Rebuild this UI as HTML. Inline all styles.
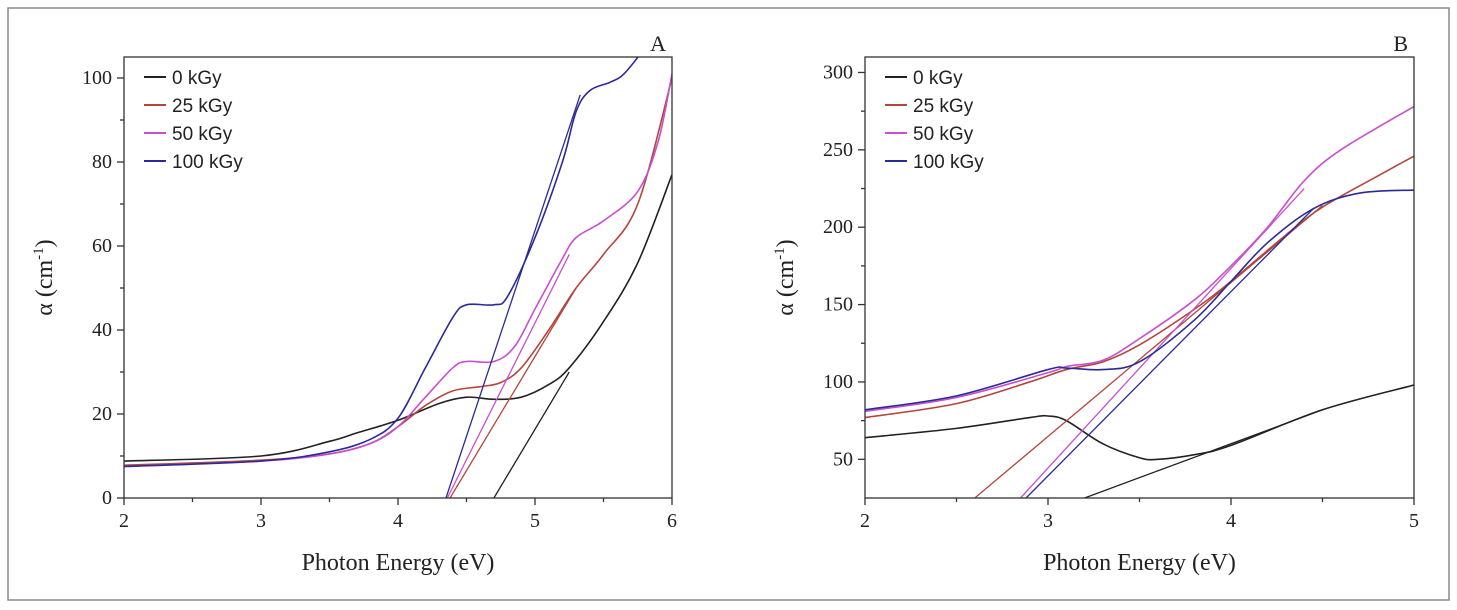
<!DOCTYPE html>
<html><head><meta charset="utf-8"><style>
body{margin:0;background:#fff;}
svg{display:block;font-family:"Liberation Serif",serif;}
.leg{font-family:"Liberation Sans",sans-serif;font-size:19px;}
</style></head><body>
<svg id="fig" width="1457" height="610">
<rect x="8" y="8" width="1441" height="592" fill="none" stroke="#888" stroke-width="1.5"/>
</svg>
<script>
const seriesNames=["0 kGy","25 kGy","50 kGy","100 kGy"];
const colors=["#222","#b5453c","#c84fd0","#2a2a9a"];
// Panel A
const aX0=[2,3,3.5,3.7,4,4.3,4.5,4.7,4.9,5.1,5.25,5.5,5.75,6];
const aY0=[8.8,10,13.5,15.5,18.5,22.5,24,23.5,24,27,31,42,56,77];
const aX1=[2,3,3.5,3.8,4,4.2,4.4,4.6,4.75,4.9,5.1,5.3,5.5,5.75,6];
const aY1=[7.8,9,10.5,13,17,22,25.5,26.5,27.5,31,40,50,58,70,100];
const aX2=[2,3,3.5,3.8,4,4.2,4.4,4.5,4.7,4.85,5,5.2,5.3,5.5,5.75,5.9,6];
const aY2=[7.5,8.8,10.5,13,17,24,31,32.5,32.5,36,45,57,62,66,73,85,101];
const aX3=[2,3,3.5,3.8,4,4.2,4.4,4.5,4.7,4.8,5,5.2,5.3,5.4,5.55,5.65,5.8];
const aY3=[7.5,8.8,11,14,19,31,43,46,46,48,62,80,92,97,99,101,107];
const aTanX=[[4.7,5.25],[4.38,5.3],[4.36,5.25],[4.35,5.33]];
const aTanY=[[0,30],[0,50],[0,58],[0,96]];
const aXTicks=[2,3,4,5,6];
const aYTicks=[0,20,40,60,80,100];
// Panel B
const bX0=[2,2.5,2.9,3,3.1,3.3,3.5,3.6,3.8,4,4.5,5];
const bY0=[64,70,77,78,75,60,51,50,53,59,82,98];
const bX1=[2,2.5,2.9,3.1,3.3,3.5,3.8,4,4.3,4.5,4.8,5];
const bY1=[77,86,100,108,113,124,147,165,195,213,233,246];
const bX2=[2,2.5,3,3.1,3.3,3.5,3.8,4,4.2,4.4,4.6,5];
const bY2=[81,90,106,110,114,128,153,175,200,230,250,278];
const bX3=[2,2.5,3,3.1,3.3,3.5,3.8,4,4.2,4.45,4.7,5];
const bY3=[82,91,108,109,108,113,140,165,190,212,222,224];
const bTanX=[[3.2,4.5],[2.6,4.5],[2.85,4.4],[2.88,4.45]];
const bTanY=[[25,82],[25,214],[25,225],[25,212]];
const bXTicks=[2,3,4,5];
const bYTicks=[50,100,150,200,250,300];

const NS="http://www.w3.org/2000/svg";
const svg=document.getElementById('fig');
function mk(t,a,p){const e=document.createElementNS(NS,t);for(const k in a)e.setAttribute(k,a[k]);(p||svg).appendChild(e);return e;}
function path(pts){let d="M"+pts[0][0]+","+pts[0][1];
 for(let i=0;i<pts.length-1;i++){const p0=pts[Math.max(0,i-1)],p1=pts[i],p2=pts[i+1],p3=pts[Math.min(pts.length-1,i+2)];
 const c1=[p1[0]+(p2[0]-p0[0])/6,p1[1]+(p2[1]-p0[1])/6],c2=[p2[0]-(p3[0]-p1[0])/6,p2[1]-(p3[1]-p1[1])/6];
 d+=" C"+c1+" "+c2+" "+p2;}return d;}
function panel(o){
 const g=mk('g',{});
 
 
 const sx=v=>o.L+(v-o.xmin)/(o.xmax-o.xmin)*(o.R-o.L);
 const sy=v=>o.B-(v-o.ymin)/(o.ymax-o.ymin)*(o.B-o.T);
 const cid='clip'+o.name;
 const cp=mk('clipPath',{id:cid},g);mk('rect',{x:o.L,y:o.T,width:o.R-o.L,height:o.B-o.T},cp);
 const pg=mk('g',{'clip-path':'url(#'+cid+')'},g);
 o.xs.forEach((xa,i)=>{
  const p=mk('path',{d:path(xa.map((x,j)=>[sx(x),sy(o.ys[i][j])])),fill:'none',stroke:colors[i],'stroke-width':1.6},pg);
  
  
  const t=mk('line',{x1:sx(o.tx[i][0]),y1:sy(o.ty[i][0]),x2:sx(o.tx[i][1]),y2:sy(o.ty[i][1]),stroke:colors[i],'stroke-width':1.3},pg);
  
  
 });
 const fr=mk('rect',{x:o.L,y:o.T,width:o.R-o.L,height:o.B-o.T,fill:'none',stroke:'#333','stroke-width':1.3},g);
 
 
 o.xt.forEach((v,i)=>{const x=sx(v);mk('line',{x1:x,y1:o.B,x2:x,y2:o.B+7,stroke:'#333','stroke-width':1.3},g);
  if(i<o.xt.length-1){const xm=sx(v+(o.xt[1]-o.xt[0])/2);mk('line',{x1:xm,y1:o.B,x2:xm,y2:o.B+4,stroke:'#333','stroke-width':1.3},g);}
  const t=mk('text',{x:x,y:o.B+29,'text-anchor':'middle','font-size':20,fill:'#222'},g);t.textContent=v;
  
  });
 o.yt.forEach((v,i)=>{const y=sy(v);mk('line',{x1:o.L-7,y1:y,x2:o.L,y2:y,stroke:'#333','stroke-width':1.3},g);
  const st=o.yt[1]-o.yt[0];[v-st/2,v+st/2].forEach(m=>{if(m>o.ymin&&m<o.ymax&&!(i>0&&m==v-st/2)){const ym=sy(m);mk('line',{x1:o.L-4,y1:ym,x2:o.L,y2:ym,stroke:'#333','stroke-width':1.3},g);}});
  const t=mk('text',{x:o.L-12,y:y+6,'text-anchor':'end','font-size':20,fill:'#222'},g);t.textContent=v;
  
  });
 const xt=mk('text',{x:(o.L+o.R)/2,y:570,'text-anchor':'middle','font-size':24,fill:'#222'},g);xt.textContent='Photon Energy (eV)';
 
 
 const yt=mk('text',{x:0,y:0,transform:'translate('+o.ytx+','+(o.T+o.B)/2+') rotate(-90)','text-anchor':'middle','font-size':24,fill:'#222'},g);
 yt.innerHTML='α (cm<tspan dy="-9" font-size="15">-1</tspan><tspan dy="9">)</tspan>';
 
 
 const pl=mk('text',{x:o.R-6,y:o.T-6,'text-anchor':'end','font-size':22,fill:'#222'},g);pl.textContent=o.label;
 
 
 seriesNames.forEach((n,i)=>{const y=o.T+20+i*28;
  const le=mk('g',{},g);
  
  
  mk('line',{x1:o.L+20,y1:y,x2:o.L+42,y2:y,stroke:colors[i],'stroke-width':2},le);
  const t=mk('text',{x:o.L+48,y:y+7,'class':'leg',fill:'#222'},le);t.textContent=n;});
}
panel({name:'panel-a',label:'A',L:124,R:672,T:57,B:498,xmin:2,xmax:6,ymin:0,ymax:105,
 xs:[aX0,aX1,aX2,aX3],ys:[aY0,aY1,aY2,aY3],tx:aTanX,ty:aTanY,xt:aXTicks,yt:aYTicks,ytx:52});
panel({name:'panel-b',label:'B',L:865,R:1414,T:57,B:498,xmin:2,xmax:5,ymin:25,ymax:310,
 xs:[bX0,bX1,bX2,bX3],ys:[bY0,bY1,bY2,bY3],tx:bTanX,ty:bTanY,xt:bXTicks,yt:bYTicks,ytx:793});
</script>
</body></html>
